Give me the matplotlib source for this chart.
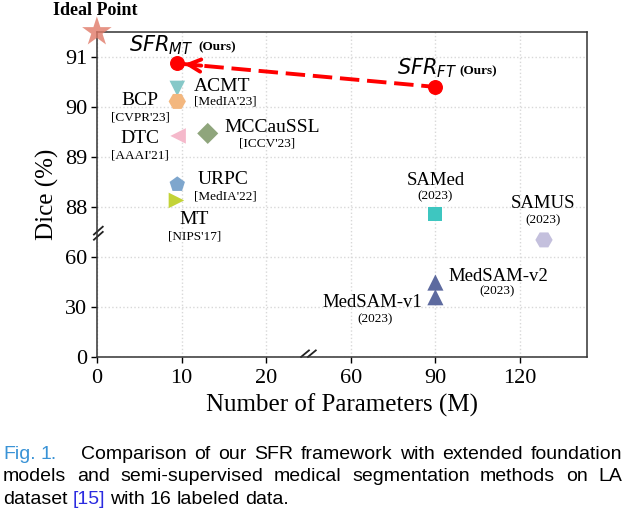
import numpy as np
import matplotlib
matplotlib.use("Agg")
import matplotlib.pyplot as plt

plt.rcParams['font.family'] = ['Liberation Serif', 'DejaVu Serif']
plt.rcParams['mathtext.fontset'] = 'dejavusans'

# --- data ---
ours_names = ['MT', 'FT']
ours_params = [9.5, 90]
ours_dice = [90.87, 90.40]

methods = ['ACMT', 'BCP', 'DTC', 'MCCauSSL', 'URPC', 'MT',
           'SAMed', 'SAMUS', 'MedSAM-v2', 'MedSAM-v1']
venues = ["[MedIA'23]", "[CVPR'23]", "[AAAI'21]", "[ICCV'23]", "[MedIA'22]",
          "[NIPS'17]", '(2023)', '(2023)', '(2023)', '(2023)']
params = [9.5, 9.5, 9.6, 13.1, 9.5, 9.4, 90, 128.5, 90, 90]
dice = [90.37, 90.11, 89.42, 89.47, 88.45, 88.13, 87.85, 70.2, 44.6, 35.8]
markers = ['v', 'H', '<', 'D', 'p', '>', 's', 'H', '^', '^']
colors = ['#86c8c8', '#f3b77f', '#f5b9cb', '#8fa57c', '#7ea6cd', '#c3d337',
          '#3ec6c0', '#c4c0dd', '#5d6a9f', '#5d6a9f']
sizes = [125, 155, 125, 115, 135, 125, 100, 155, 135, 135]

# label offsets in pixels: (name dx, dy, ha), (venue dx, dy, ha)
name_off = [(17, 2, 'left'), (-37, 1, 'center'), (-38, -3, 'center'),
            (17, 6, 'left'), (20, 5, 'left'), (18, -19, 'center'),
            (0, 34, 'center'), (-1, 36, 'center'), (13, 6, 'left'),
            (-13, -5, 'right')]
venue_off = [(17, -13, 'left'), (-37, -16, 'center'), (-38, -20, 'center'),
             (59, -10, 'center'), (17, -12, 'left'), (18, -36, 'center'),
             (0, 18, 'center'), (-1, 20, 'center'), (62, -9, 'center'),
             (-60, -22, 'center')]

ideal = (0, 91.5)

xticks = [0, 10, 20, 60, 90, 120]
yticks = [0, 30, 60, 88, 89, 90, 91]


# broken axes as piecewise-linear scales
def xfwd(x):
    x = np.asarray(x, float)
    return np.where(x <= 25, x / 10, np.where(x >= 45, 3 + (x - 60) / 30, 2.5))


def xinv(u):
    u = np.asarray(u, float)
    return np.where(u <= 2.5, u * 10, 60 + (u - 3) * 30)


def yfwd(y):
    y = np.asarray(y, float)
    return np.where(y <= 75, y / 30, np.where(y >= 87.5, 3 + (y - 88), 2.5))


def yinv(u):
    u = np.asarray(u, float)
    return np.where(u <= 2.5, u * 30, 88 + (u - 3))


fig = plt.figure(figsize=(6.25, 5.15), dpi=100)
ax = fig.add_axes([0.155, 0.307, 0.784, 0.631])
ax.set_xscale('function', functions=(xfwd, xinv))
ax.set_yscale('function', functions=(yfwd, yinv))
ax.set_xlim(0, float(xinv(5.79)))
ax.set_ylim(0, 91.5)
ax.set_xticks(xticks)
ax.set_xticklabels([str(t) for t in xticks])
ax.set_yticks(yticks)
ax.set_yticklabels([str(t) for t in yticks])
ax.tick_params(labelsize=16, length=4, width=1, direction='out')
ax.tick_params(axis='x', pad=5)
ax.tick_params(axis='y', pad=3)
ax.grid(True, linestyle=':', color='#d8d8d8', linewidth=1)
ax.set_axisbelow(True)
for s in ax.spines.values():
    s.set_color('#333333')
    s.set_linewidth(1.1)

ax.set_xlabel('Number of Parameters (M)', fontsize=18, labelpad=4)
ax.set_ylabel('Dice (%)', fontsize=18, labelpad=4)

# break marks
bk = dict(color='#222222', lw=1.3, clip_on=False, transform=ax.transAxes)
yb = 2.5 / 6.5
for d in (-0.012, 0.004):
    ax.plot([-0.006, 0.012], [yb + d - 0.012, yb + d + 0.012], **bk)
xb = 2.5 / 5.79
for d in (-0.007, 0.007):
    ax.plot([xb + d - 0.008, xb + d + 0.008], [0.0, 0.02], **bk)

# other methods
for i in range(len(methods)):
    ax.scatter(params[i], dice[i], marker=markers[i], s=sizes[i],
               color=colors[i], edgecolors='none', zorder=3)
    dx, dy, ha = name_off[i]
    fs = 14 if i < 6 else 13.5
    ax.annotate(methods[i], (params[i], dice[i]), xytext=(dx, dy),
                textcoords='offset pixels', ha=ha, va='center', fontsize=fs)
    dx, dy, ha = venue_off[i]
    ax.annotate(venues[i], (params[i], dice[i]), xytext=(dx, dy),
                textcoords='offset pixels', ha=ha, va='center', fontsize=9.5)

# ours: dashed line + arrow
ax.plot(ours_params, ours_dice, color='red', lw=2.8, dashes=(5, 2),
        zorder=4)
ax.scatter(ours_params, ours_dice, color='red', s=95, zorder=5)
ax.annotate('', xy=(ours_params[0], ours_dice[0]), xytext=(24, -2.2),
            textcoords='offset pixels',
            arrowprops=dict(arrowstyle='->', color='red', lw=2.8,
                            shrinkA=0, shrinkB=5, mutation_scale=22),
            zorder=5)
ours_off = [(16, 18, 21, 16), (22, 19, 24, 16)]
for i in range(2):
    a, b, c, d = ours_off[i]
    ax.annotate('$SFR_{%s}$' % ours_names[i], (ours_params[i], ours_dice[i]),
                xytext=(a, b), textcoords='offset pixels', ha='right',
                va='center', fontsize=15)
    ax.annotate('(Ours)', (ours_params[i], ours_dice[i]), xytext=(c, d),
                textcoords='offset pixels', ha='left', va='center',
                fontsize=9.5, fontweight='bold')

# ideal point
ax.scatter(*ideal, marker='*', s=500, color='#e07a68', alpha=0.8,
           edgecolors='none', clip_on=False, zorder=6)
ax.annotate('Ideal Point', ideal, xytext=(-2, 21), textcoords='offset pixels',
            ha='center', va='center', fontsize=13, fontweight='bold',
            annotation_clip=False)

# caption (justified); gap value None = stretchable, number = fixed px
cap_font = dict(family='Liberation Sans', fontsize=14)
blue1 = '#3a93d6'
blue2 = '#2b2be0'
lines = [
    ([('Fig.', blue1), ('1.', blue1), ('Comparison', 'k'), ('of', 'k'),
      ('our', 'k'), ('SFR', 'k'), ('framework', 'k'), ('with', 'k'),
      ('extended', 'k'), ('foundation', 'k')],
     [5, 24] + [None] * 7, True),
    ([(w, 'k') for w in ['models', 'and', 'semi-supervised', 'medical',
                         'segmentation', 'methods', 'on', 'LA']],
     [None] * 7, True),
    ([('dataset', 'k'), ('[15]', blue2), ('with', 'k'), ('16', 'k'),
      ('labeled', 'k'), ('data.', 'k')], [None] * 5, False),
]
W, H = 625, 515
x0, x1 = 3, 622
line_base = [459, 481, 504]
r = fig.canvas.get_renderer()
for (words, gaps, just), yy in zip(lines, line_base):
    txts = [fig.text(0, 1 - yy / H, w, color=c, va='baseline', ha='left',
                     **cap_font) for w, c in words]
    widths = [t.get_window_extent(r).width for t in txts]
    fixed = sum(gp for gp in gaps if gp is not None)
    nflex = sum(1 for gp in gaps if gp is None)
    if just:
        g = (x1 - x0 - sum(widths) - fixed) / nflex
    else:
        g = 5.0
    x = x0
    for k, t in enumerate(txts):
        t.set_x(x / W)
        x += widths[k]
        if k < len(gaps):
            x += g if gaps[k] is None else gaps[k]

fig.savefig('out.png', dpi=100)
